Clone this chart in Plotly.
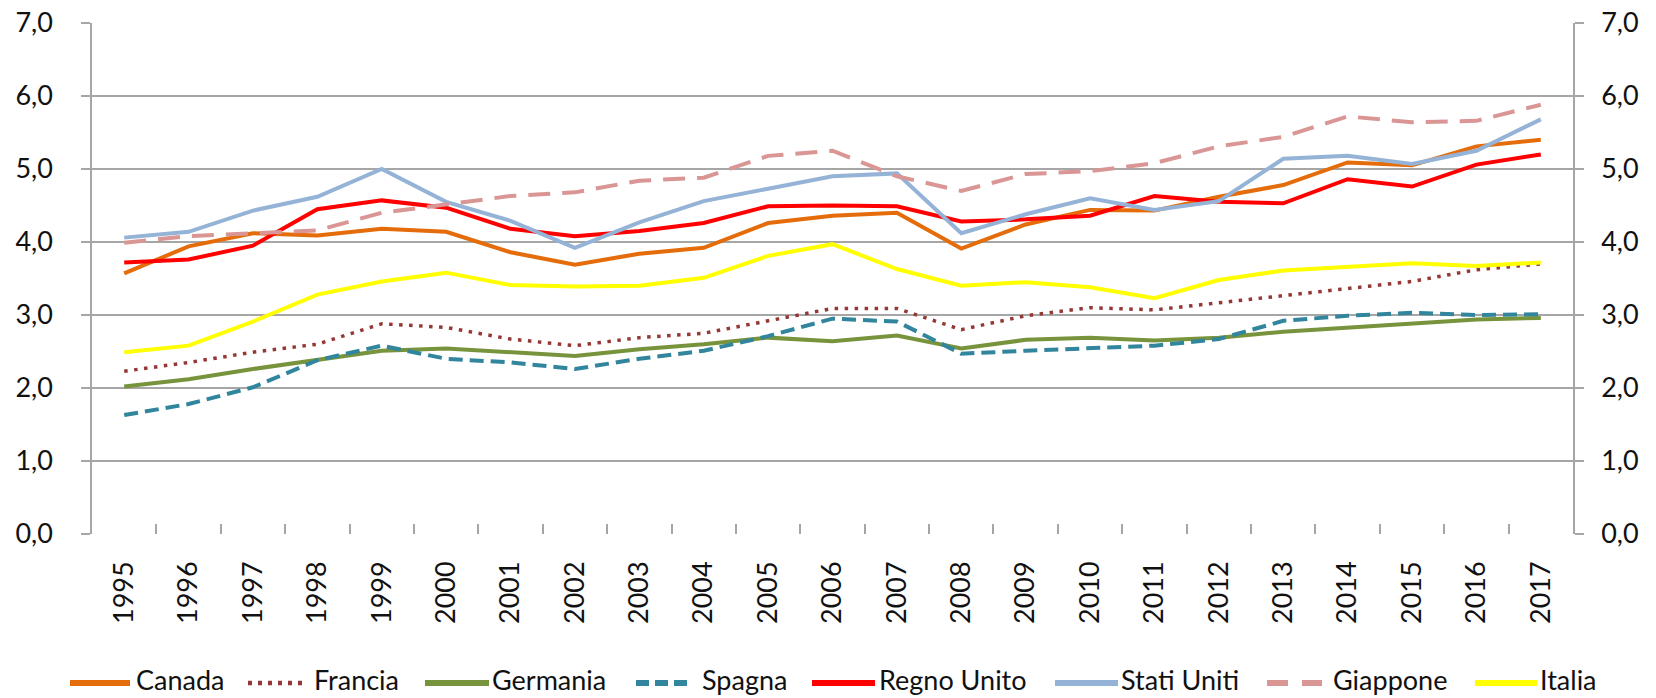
import plotly.graph_objects as go

years = [str(y) for y in range(1995, 2018)]

canada = [3.57, 3.94, 4.12, 4.09, 4.18, 4.14, 3.86, 3.69, 3.84, 3.92, 4.26, 4.36, 4.40, 3.91, 4.24, 4.44, 4.43, 4.62, 4.78, 5.09, 5.05, 5.31, 5.40]
francia = [2.23, 2.35, 2.49, 2.60, 2.88, 2.83, 2.67, 2.58, 2.69, 2.75, 2.92, 3.09, 3.09, 2.80, 2.99, 3.10, 3.07, 3.17, 3.27, 3.36, 3.46, 3.62, 3.70]
germania = [2.02, 2.12, 2.26, 2.38, 2.51, 2.54, 2.49, 2.44, 2.53, 2.60, 2.69, 2.64, 2.72, 2.54, 2.66, 2.69, 2.65, 2.69, 2.77, 2.83, 2.89, 2.94, 2.96]
spagna = [1.63, 1.78, 2.01, 2.38, 2.58, 2.40, 2.35, 2.26, 2.40, 2.51, 2.71, 2.95, 2.91, 2.47, 2.51, 2.54, 2.58, 2.67, 2.92, 2.99, 3.03, 3.00, 3.01]
regno_unito = [3.72, 3.76, 3.95, 4.45, 4.57, 4.47, 4.18, 4.08, 4.15, 4.26, 4.49, 4.50, 4.49, 4.28, 4.31, 4.36, 4.63, 4.55, 4.53, 4.86, 4.76, 5.06, 5.20]
stati_uniti = [4.06, 4.14, 4.43, 4.62, 5.00, 4.55, 4.29, 3.92, 4.27, 4.56, 4.73, 4.90, 4.94, 4.12, 4.38, 4.60, 4.44, 4.56, 5.14, 5.18, 5.07, 5.25, 5.68]
giappone = [3.99, 4.08, 4.12, 4.16, 4.40, 4.52, 4.63, 4.68, 4.84, 4.88, 5.18, 5.25, 4.90, 4.70, 4.93, 4.97, 5.08, 5.31, 5.44, 5.72, 5.64, 5.66, 5.88]
italia = [2.49, 2.58, 2.91, 3.28, 3.46, 3.58, 3.41, 3.39, 3.40, 3.51, 3.81, 3.97, 3.63, 3.40, 3.45, 3.38, 3.23, 3.48, 3.61, 3.66, 3.71, 3.67, 3.72]

# name, values, colour, dash pattern (plot), line width
series = [
    ("Canada", canada, "#E46C0A", "solid", 4),
    ("Francia", francia, "#953735", "3.5px,6.5px", 3.5),
    ("Germania", germania, "#77933C", "solid", 4),
    ("Spagna", spagna, "#31859C", "14px,7px", 4),
    ("Regno Unito", regno_unito, "#FF0000", "solid", 4),
    ("Stati Uniti", stati_uniti, "#95B3D7", "solid", 4),
    ("Giappone", giappone, "#D99694", "22px,12px", 4),
    ("Italia", italia, "#FFFF00", "solid", 4),
]
legend_dash = ["solid", "4px,6px", "solid", "13px,6px", "solid", "solid", "21px,14px", "solid"]

# legend layout (pixel positions of symbol start/end and text start)
legend_sym_x0 = [70, 248, 425, 636, 812, 1055, 1267, 1475]
legend_sym_x1 = [130, 305, 489, 689, 875, 1118, 1322, 1537]
legend_txt_x = [134, 312, 490, 700, 877, 1119, 1331, 1538]

W, H = 1656, 698
L, R, T, B = 92, 83, 23, 164
pw, ph = W - L - R, H - T - B
def px_x(p):
    return (p - L) / pw
def px_y(p):
    return (H - B - p) / ph

fig = go.Figure()
for name, vals, color, dash, lw in series:
    fig.add_trace(go.Scatter(
        x=years, y=vals, name=name, mode="lines", showlegend=False,
        line=dict(color=color, width=lw, dash=dash),
    ))

font = "Lato, 'Open Sans', sans-serif"
for i, (name, vals, color, dash, lw) in enumerate(series):
    ly = px_y(683)
    fig.add_shape(type="line", xref="paper", yref="paper",
                  x0=px_x(legend_sym_x0[i]), x1=px_x(legend_sym_x1[i]), y0=ly, y1=ly,
                  line=dict(color=color, width=6 if i != 1 else 4.5, dash=legend_dash[i]))
    fig.add_annotation(text=name, xref="paper", yref="paper", x=px_x(legend_txt_x[i]), y=px_y(680),
                       xanchor="left", yanchor="middle", showarrow=False,
                       font=dict(family=font, size=27, color="#111111"))

grid = "#A6A6A6"
fig.update_layout(
    width=W, height=H,
    margin=dict(l=L, r=R, t=T, b=B, autoexpand=False),
    paper_bgcolor="white", plot_bgcolor="white",
    separators=",.",
    font=dict(family=font, size=27, color="#111111"),
    showlegend=False,
    xaxis=dict(
        type="category", range=[-0.5, 22.5], showgrid=False, showline=False,
        ticks="inside", tickson="boundaries", ticklen=10, tickcolor=grid, tickwidth=1.5,
        tickangle=-90, tickfont=dict(size=27), zeroline=False, ticklabelstandoff=21,
        automargin=False,
    ),
    yaxis=dict(
        range=[0, 7], dtick=1, tickformat=".1f",
        showgrid=True, gridcolor=grid, gridwidth=1.5,
        showline=True, linecolor=grid, linewidth=1.5,
        ticks="outside", ticklen=9, tickcolor=grid, tickwidth=1.5,
        ticklabelstandoff=23, zeroline=True, zerolinecolor=grid, zerolinewidth=2,
        tickfont=dict(size=27), automargin=False,
    ),
    yaxis2=dict(
        range=[0, 7], dtick=1, tickformat=".1f", overlaying="y", side="right",
        showgrid=False, showline=True, linecolor=grid, linewidth=1.5,
        ticks="outside", ticklen=9, tickcolor=grid, tickwidth=1.5,
        ticklabelstandoff=12, tickfont=dict(size=27), automargin=False,
    ),
)
fig.add_trace(go.Scatter(x=years, y=[None]*len(years), yaxis="y2", showlegend=False,
                         hoverinfo="skip", mode="lines"))

fig.write_html("out.html", config={"displayModeBar": False},
               post_script="document.body.style.margin='0';document.body.style.overflow='hidden';")
